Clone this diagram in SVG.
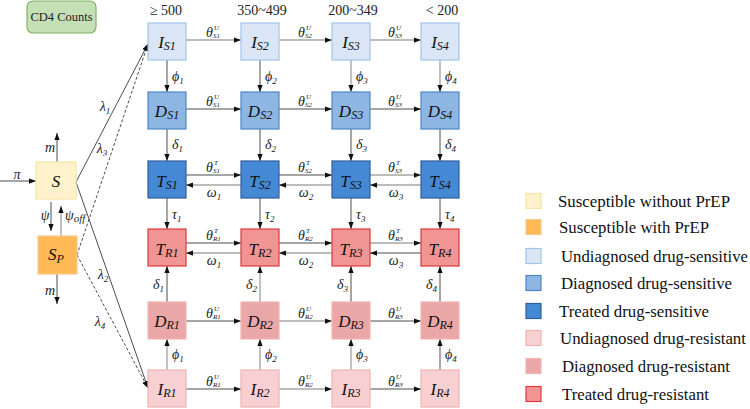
<svg xmlns="http://www.w3.org/2000/svg" width="750" height="409" viewBox="0 0 750 409">
<defs>
<marker id="ah" viewBox="0 0 8 6" refX="8" refY="3" markerWidth="7" markerHeight="5.5" markerUnits="userSpaceOnUse" orient="auto"><path d="M0,0L8,3L0,6z" fill="#111"/></marker>
<style>
.box{stroke-width:1.2}
.is{fill:#dae6f6;stroke:#a3c4ea}
.ds{fill:#8db6e3;stroke:#4f86c6}
.ts{fill:#4589d5;stroke:#2f5c9e}
.tr{fill:#f09494;stroke:#dc3a3e}
.dr{fill:#eba7a8;stroke:#f0b5b5}
.ir{fill:#f8d0d1;stroke:#efb3b4}
.s{fill:#fdf2cc;stroke:#f9e4a6}
.sp{fill:#ffb955;stroke:#f7c98a}
.lab{font-family:"Liberation Serif",serif;font-style:italic;font-size:17px;fill:#111;text-anchor:middle}
.sb{font-size:12px}
.m{font-family:"Liberation Serif",serif;font-style:italic;font-size:14px;fill:#222}
.mc{text-anchor:middle}
.s9{font-size:9px}
.sup{font-family:"Liberation Serif",serif;font-style:italic;font-size:7px;fill:#222}
.dk{stroke:#4d4d4d;stroke-width:1;fill:none;marker-end:url(#ah)}
.lt{stroke:#a6a6a6;stroke-width:1.4;fill:none;marker-end:url(#ah)}
.dash{stroke-dasharray:3,2}
.hdr{font-family:"Liberation Serif",serif;font-size:14px;fill:#222;text-anchor:middle}
.leg{font-family:"Liberation Serif",serif;font-size:17px;fill:#111}
</style>
</defs>
<rect width="750" height="409" fill="#fff"/>

<g id="cd4">
<rect x="27" y="1" width="69" height="32" rx="6" fill="#c5e0b4" stroke="#82b366" stroke-width="1.2"/>
<text x="61.5" y="21" font-family="Liberation Serif, serif" font-size="12.5" fill="#222" text-anchor="middle">CD4 Counts</text>
</g>

<g id="headers">
<text class="hdr" x="166" y="15">≥ 500</text>
<text class="hdr" x="262" y="15">350~499</text>
<text class="hdr" x="353" y="15">200~349</text>
<text class="hdr" x="442" y="15">&lt; 200</text>
</g>

<g id="connectors">
<line class="dk" x1="0" y1="181" x2="36" y2="181"/>
<line class="dk" x1="57" y1="162" x2="57" y2="133"/>
<line class="dk" x1="51" y1="202" x2="51" y2="231"/>
<line class="lt" x1="61" y1="236" x2="61" y2="206"/>
<line class="dk" x1="57" y1="274" x2="57" y2="304"/>
<path class="dk" d="M76,182L148,44"/>
<path class="dk" d="M76,182L148,388"/>
<path class="dk dash" d="M77,255L148,44"/>
<path class="dk dash" d="M77,255L148,388"/>
<line class="lt" x1="186" y1="40" x2="241" y2="40"/>
<line class="lt" x1="279" y1="40" x2="332" y2="40"/>
<line class="lt" x1="370" y1="40" x2="421" y2="40"/>
<line class="dk" x1="186" y1="109" x2="241" y2="109"/>
<line class="dk" x1="279" y1="109" x2="332" y2="109"/>
<line class="dk" x1="370" y1="109" x2="421" y2="109"/>
<line class="dk" x1="186" y1="175" x2="241" y2="175"/>
<line class="dk" x1="279" y1="175" x2="332" y2="175"/>
<line class="lt" x1="370" y1="175" x2="421" y2="175"/>
<line class="lt" x1="241" y1="185" x2="186" y2="185"/>
<line class="lt" x1="332" y1="185" x2="279" y2="185"/>
<line class="lt" x1="421" y1="185" x2="370" y2="185"/>
<line class="dk" x1="186" y1="243" x2="241" y2="243"/>
<line class="dk" x1="279" y1="243" x2="332" y2="243"/>
<line class="lt" x1="370" y1="243" x2="421" y2="243"/>
<line class="lt" x1="241" y1="253" x2="186" y2="253"/>
<line class="lt" x1="332" y1="253" x2="279" y2="253"/>
<line class="dk" x1="421" y1="253" x2="370" y2="253"/>
<line class="dk" x1="186" y1="321" x2="241" y2="321"/>
<line class="lt" x1="279" y1="321" x2="332" y2="321"/>
<line class="dk" x1="370" y1="321" x2="421" y2="321"/>
<line class="dk" x1="186" y1="389" x2="241" y2="389"/>
<line class="lt" x1="279" y1="389" x2="332" y2="389"/>
<line class="dk" x1="370" y1="389" x2="421" y2="389"/>
<line class="dk" x1="167" y1="60" x2="167" y2="92"/>
<line class="dk" x1="260" y1="60" x2="260" y2="92"/>
<line class="lt" x1="351" y1="60" x2="351" y2="92"/>
<line class="lt" x1="440" y1="60" x2="440" y2="92"/>
<line class="dk" x1="167" y1="129" x2="167" y2="161"/>
<line class="dk" x1="260" y1="129" x2="260" y2="161"/>
<line class="dk" x1="351" y1="129" x2="351" y2="161"/>
<line class="dk" x1="440" y1="129" x2="440" y2="161"/>
<line class="dk" x1="167" y1="198" x2="167" y2="229"/>
<line class="dk" x1="260" y1="198" x2="260" y2="229"/>
<line class="dk" x1="351" y1="198" x2="351" y2="229"/>
<line class="dk" x1="440" y1="198" x2="440" y2="229"/>
<line class="dk" x1="167" y1="302" x2="167" y2="266"/>
<line class="lt" x1="260" y1="302" x2="260" y2="266"/>
<line class="dk" x1="351" y1="302" x2="351" y2="266"/>
<line class="dk" x1="440" y1="302" x2="440" y2="266"/>
<line class="lt" x1="167" y1="370" x2="167" y2="339"/>
<line class="lt" x1="260" y1="370" x2="260" y2="339"/>
<line class="lt" x1="351" y1="370" x2="351" y2="339"/>
<line class="dk" x1="440" y1="370" x2="440" y2="339"/>
</g>

<g id="labels">
<text class="m mc" x="17" y="179">π</text>
<text class="m mc" x="50" y="152">m</text>
<text class="m mc" x="50" y="295">m</text>
<text class="m mc" x="45" y="220">ψ</text>
<text class="m" x="65" y="220">ψ<tspan dy="2" font-size="11">off</tspan></text>
<text class="m mc" x="105" y="111">λ<tspan class="s9" dy="3">1</tspan></text>
<text class="m mc" x="102" y="153">λ<tspan class="s9" dy="3">3</tspan></text>
<text class="m mc" x="103" y="279">λ<tspan class="s9" dy="3">2</tspan></text>
<text class="m mc" x="100" y="326">λ<tspan class="s9" dy="3">4</tspan></text>

<text class="m" x="206" y="37">θ</text><text class="sup" x="214" y="30">U</text><text class="sup" x="213" y="38" font-size="6.5">S1</text>
<text class="m" x="298" y="37">θ</text><text class="sup" x="306" y="30">U</text><text class="sup" x="305" y="38" font-size="6.5">S2</text>
<text class="m" x="388" y="37">θ</text><text class="sup" x="396" y="30">U</text><text class="sup" x="395" y="38" font-size="6.5">S3</text>
<text class="m" x="206" y="106">θ</text><text class="sup" x="214" y="99">U</text><text class="sup" x="213" y="107" font-size="6.5">S1</text>
<text class="m" x="298" y="106">θ</text><text class="sup" x="306" y="99">U</text><text class="sup" x="305" y="107" font-size="6.5">S2</text>
<text class="m" x="388" y="106">θ</text><text class="sup" x="396" y="99">U</text><text class="sup" x="395" y="107" font-size="6.5">S3</text>
<text class="m" x="206" y="172">θ</text><text class="sup" x="214" y="165">T</text><text class="sup" x="213" y="173" font-size="6.5">S1</text>
<text class="m" x="298" y="172">θ</text><text class="sup" x="306" y="165">T</text><text class="sup" x="305" y="173" font-size="6.5">S2</text>
<text class="m" x="388" y="172">θ</text><text class="sup" x="396" y="165">T</text><text class="sup" x="395" y="173" font-size="6.5">S3</text>
<text class="m mc" x="214" y="197">ω<tspan class="s9" dy="3">1</tspan></text>
<text class="m mc" x="306" y="197">ω<tspan class="s9" dy="3">2</tspan></text>
<text class="m mc" x="396" y="197">ω<tspan class="s9" dy="3">3</tspan></text>
<text class="m" x="206" y="240">θ</text><text class="sup" x="214" y="233">T</text><text class="sup" x="213" y="241" font-size="6.5">R1</text>
<text class="m" x="298" y="240">θ</text><text class="sup" x="306" y="233">T</text><text class="sup" x="305" y="241" font-size="6.5">R2</text>
<text class="m" x="388" y="240">θ</text><text class="sup" x="396" y="233">T</text><text class="sup" x="395" y="241" font-size="6.5">R3</text>
<text class="m mc" x="214" y="265">ω<tspan class="s9" dy="3">1</tspan></text>
<text class="m mc" x="306" y="265">ω<tspan class="s9" dy="3">2</tspan></text>
<text class="m mc" x="396" y="265">ω<tspan class="s9" dy="3">3</tspan></text>
<text class="m" x="206" y="318">θ</text><text class="sup" x="214" y="311">U</text><text class="sup" x="213" y="319" font-size="6.5">R1</text>
<text class="m" x="298" y="318">θ</text><text class="sup" x="306" y="311">U</text><text class="sup" x="305" y="319" font-size="6.5">R2</text>
<text class="m" x="388" y="318">θ</text><text class="sup" x="396" y="311">U</text><text class="sup" x="395" y="319" font-size="6.5">R3</text>
<text class="m" x="206" y="386">θ</text><text class="sup" x="214" y="379">U</text><text class="sup" x="213" y="387" font-size="6.5">R1</text>
<text class="m" x="298" y="386">θ</text><text class="sup" x="306" y="379">U</text><text class="sup" x="305" y="387" font-size="6.5">R2</text>
<text class="m" x="388" y="386">θ</text><text class="sup" x="396" y="379">U</text><text class="sup" x="395" y="387" font-size="6.5">R3</text>

<text class="m" x="172" y="81">ϕ<tspan class="s9" dy="3">1</tspan></text>
<text class="m" x="265" y="81">ϕ<tspan class="s9" dy="3">2</tspan></text>
<text class="m" x="356" y="81">ϕ<tspan class="s9" dy="3">3</tspan></text>
<text class="m" x="445" y="81">ϕ<tspan class="s9" dy="3">4</tspan></text>
<text class="m" x="172" y="149">δ<tspan class="s9" dy="3">1</tspan></text>
<text class="m" x="265" y="149">δ<tspan class="s9" dy="3">2</tspan></text>
<text class="m" x="356" y="149">δ<tspan class="s9" dy="3">3</tspan></text>
<text class="m" x="445" y="149">δ<tspan class="s9" dy="3">4</tspan></text>
<text class="m" x="172" y="219">τ<tspan class="s9" dy="3">1</tspan></text>
<text class="m" x="265" y="219">τ<tspan class="s9" dy="3">2</tspan></text>
<text class="m" x="356" y="219">τ<tspan class="s9" dy="3">3</tspan></text>
<text class="m" x="445" y="219">τ<tspan class="s9" dy="3">4</tspan></text>
<text class="m" x="153" y="289">δ<tspan class="s9" dy="3">1</tspan></text>
<text class="m" x="246" y="289">δ<tspan class="s9" dy="3">2</tspan></text>
<text class="m" x="337" y="289">δ<tspan class="s9" dy="3">3</tspan></text>
<text class="m" x="426" y="289">δ<tspan class="s9" dy="3">4</tspan></text>
<text class="m" x="172" y="359">ϕ<tspan class="s9" dy="3">1</tspan></text>
<text class="m" x="265" y="359">ϕ<tspan class="s9" dy="3">2</tspan></text>
<text class="m" x="356" y="359">ϕ<tspan class="s9" dy="3">3</tspan></text>
<text class="m" x="445" y="359">ϕ<tspan class="s9" dy="3">4</tspan></text>
</g>

<g id="S"><rect class="box s" x="36" y="162" width="40" height="37"/><text class="lab" x="56" y="187">S</text></g>
<g id="SP"><rect class="box sp" x="38" y="236" width="39" height="38"/><text class="lab" x="56" y="260">S<tspan class="sb" dy="3">P</tspan></text></g>

<g id="IS1"><rect class="box is" x="148" y="23" width="38" height="37"/><text class="lab" x="167" y="48">I<tspan class="sb" dy="2">S1</tspan></text></g>
<g id="IS2"><rect class="box is" x="241" y="23" width="38" height="37"/><text class="lab" x="260" y="48">I<tspan class="sb" dy="2">S2</tspan></text></g>
<g id="IS3"><rect class="box is" x="332" y="23" width="38" height="37"/><text class="lab" x="351" y="48">I<tspan class="sb" dy="2">S3</tspan></text></g>
<g id="IS4"><rect class="box is" x="421" y="23" width="38" height="37"/><text class="lab" x="440" y="48">I<tspan class="sb" dy="2">S4</tspan></text></g>

<g id="DS1"><rect class="box ds" x="148" y="92" width="38" height="37"/><text class="lab" x="167" y="117">D<tspan class="sb" dy="2">S1</tspan></text></g>
<g id="DS2"><rect class="box ds" x="241" y="92" width="38" height="37"/><text class="lab" x="260" y="117">D<tspan class="sb" dy="2">S2</tspan></text></g>
<g id="DS3"><rect class="box ds" x="332" y="92" width="38" height="37"/><text class="lab" x="351" y="117">D<tspan class="sb" dy="2">S3</tspan></text></g>
<g id="DS4"><rect class="box ds" x="421" y="92" width="38" height="37"/><text class="lab" x="440" y="117">D<tspan class="sb" dy="2">S4</tspan></text></g>

<g id="TS1"><rect class="box ts" x="148" y="161" width="38" height="37"/><text class="lab" x="167" y="187">T<tspan class="sb" dy="2">S1</tspan></text></g>
<g id="TS2"><rect class="box ts" x="241" y="161" width="38" height="37"/><text class="lab" x="260" y="187">T<tspan class="sb" dy="2">S2</tspan></text></g>
<g id="TS3"><rect class="box ts" x="332" y="161" width="38" height="37"/><text class="lab" x="351" y="187">T<tspan class="sb" dy="2">S3</tspan></text></g>
<g id="TS4"><rect class="box ts" x="421" y="161" width="38" height="37"/><text class="lab" x="440" y="187">T<tspan class="sb" dy="2">S4</tspan></text></g>

<g id="TR1"><rect class="box tr" x="148" y="229" width="38" height="37"/><text class="lab" x="167" y="255">T<tspan class="sb" dy="2">R1</tspan></text></g>
<g id="TR2"><rect class="box tr" x="241" y="229" width="38" height="37"/><text class="lab" x="260" y="255">T<tspan class="sb" dy="2">R2</tspan></text></g>
<g id="TR3"><rect class="box tr" x="332" y="229" width="38" height="37"/><text class="lab" x="351" y="255">T<tspan class="sb" dy="2">R3</tspan></text></g>
<g id="TR4"><rect class="box tr" x="421" y="229" width="38" height="37"/><text class="lab" x="440" y="255">T<tspan class="sb" dy="2">R4</tspan></text></g>

<g id="DR1"><rect class="box dr" x="148" y="302" width="38" height="37"/><text class="lab" x="167" y="327">D<tspan class="sb" dy="2">R1</tspan></text></g>
<g id="DR2"><rect class="box dr" x="241" y="302" width="38" height="37"/><text class="lab" x="260" y="327">D<tspan class="sb" dy="2">R2</tspan></text></g>
<g id="DR3"><rect class="box dr" x="332" y="302" width="38" height="37"/><text class="lab" x="351" y="327">D<tspan class="sb" dy="2">R3</tspan></text></g>
<g id="DR4"><rect class="box dr" x="421" y="302" width="38" height="37"/><text class="lab" x="440" y="327">D<tspan class="sb" dy="2">R4</tspan></text></g>

<g id="IR1"><rect class="box ir" x="148" y="370" width="38" height="37"/><text class="lab" x="167" y="395">I<tspan class="sb" dy="2">R1</tspan></text></g>
<g id="IR2"><rect class="box ir" x="241" y="370" width="38" height="37"/><text class="lab" x="260" y="395">I<tspan class="sb" dy="2">R2</tspan></text></g>
<g id="IR3"><rect class="box ir" x="332" y="370" width="38" height="37"/><text class="lab" x="351" y="395">I<tspan class="sb" dy="2">R3</tspan></text></g>
<g id="IR4"><rect class="box ir" x="421" y="370" width="38" height="37"/><text class="lab" x="440" y="395">I<tspan class="sb" dy="2">R4</tspan></text></g>

<g id="legend">
<rect class="box s" x="526" y="193.5" width="15" height="15"/><text class="leg" x="558" y="207" textLength="172" lengthAdjust="spacingAndGlyphs">Susceptible without PrEP</text>
<rect class="box sp" x="526" y="219.5" width="15" height="15"/><text class="leg" x="559" y="233" textLength="150" lengthAdjust="spacingAndGlyphs">Susceptible with PrEP</text>
<rect class="box is" x="526" y="248.5" width="15" height="15"/><text class="leg" x="561" y="262" textLength="187" lengthAdjust="spacingAndGlyphs">Undiagnosed drug-sensitive</text>
<rect class="box ds" x="526" y="275.5" width="15" height="15"/><text class="leg" x="561" y="289" textLength="171" lengthAdjust="spacingAndGlyphs">Diagnosed drug-sensitive</text>
<rect class="box ts" x="526" y="303.5" width="15" height="15"/><text class="leg" x="559" y="317" textLength="150" lengthAdjust="spacingAndGlyphs">Treated drug-sensitive</text>
<rect class="box ir" x="526" y="330.5" width="15" height="15"/><text class="leg" x="560" y="344" textLength="186" lengthAdjust="spacingAndGlyphs">Undiagnosed drug-resistant</text>
<rect class="box dr" x="526" y="358.5" width="15" height="15"/><text class="leg" x="562" y="372" textLength="168" lengthAdjust="spacingAndGlyphs">Diagnosed drug-resistant</text>
<rect class="box tr" x="526" y="386.5" width="15" height="15"/><text class="leg" x="562" y="400" textLength="147" lengthAdjust="spacingAndGlyphs">Treated drug-resistant</text>
</g>
</svg>
